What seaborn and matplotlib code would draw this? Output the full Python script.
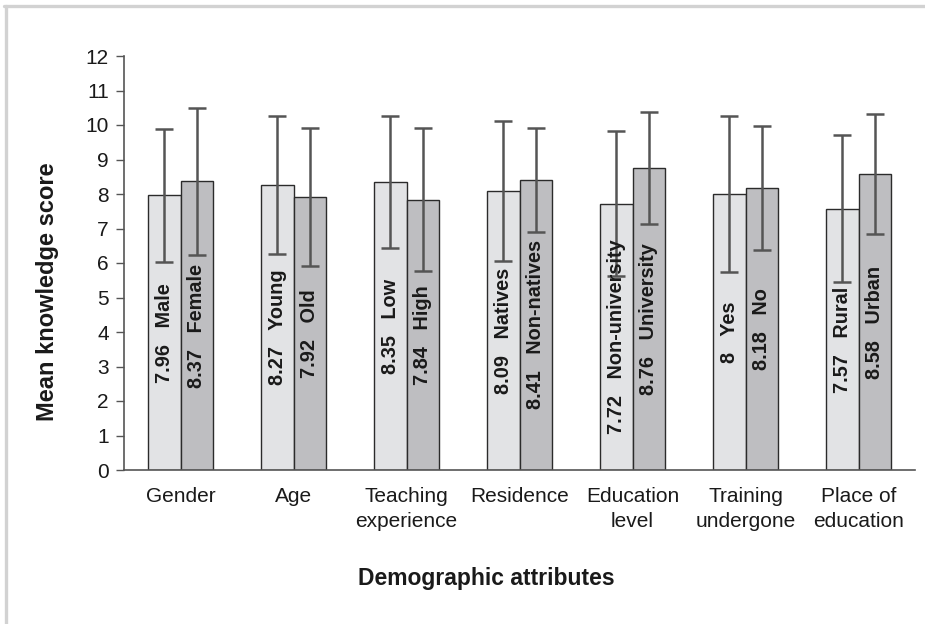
import matplotlib
matplotlib.use("Agg")
import matplotlib.pyplot as plt
from matplotlib.lines import Line2D
import seaborn as sns
import pandas as pd
import numpy as np

categories = ["Gender", "Age", "Teaching\nexperience", "Residence",
              "Education\nlevel", "Training\nundergone", "Place of\neducation"]
names_first = ["Male", "Young", "Low", "Natives", "Non-university", "Yes", "Rural"]
names_second = ["Female", "Old", "High", "Non-natives", "University", "No", "Urban"]
means_first = [7.96, 8.27, 8.35, 8.09, 7.72, 8, 7.57]
means_second = [8.37, 7.92, 7.84, 8.41, 8.76, 8.18, 8.58]
sd_first = [1.93, 2.00, 1.91, 2.03, 2.11, 2.26, 2.13]
sd_second = [2.13, 2.00, 2.08, 1.50, 1.62, 1.80, 1.75]
y_ticks = list(range(0, 13))

sns.set_theme(style="white")
plt.rcParams["font.family"] = ["Liberation Sans", "DejaVu Sans"]

rows = []
for i, c in enumerate(categories):
    rows.append(dict(cat=c, grp="first", mean=means_first[i], sd=sd_first[i], name=names_first[i]))
    rows.append(dict(cat=c, grp="second", mean=means_second[i], sd=sd_second[i], name=names_second[i]))
df = pd.DataFrame(rows)

fig = plt.figure(figsize=(9.25, 6.24), dpi=100)
ax = fig.add_axes([124 / 925, 1 - 470 / 624, (915 - 124) / 925, (470 - 56) / 624])

sns.barplot(data=df, x="cat", y="mean", hue="grp", order=categories,
            hue_order=["first", "second"],
            palette={"first": "#E2E3E5", "second": "#BDBEC1"},
            errorbar=None, width=0.575, gap=0, edgecolor="#2b2b2b",
            linewidth=1.0, legend=False, ax=ax)

bars = ax.patches
groups = [(means_first, sd_first, names_first),
          (means_second, sd_second, names_second)]
k = 0
for means, sds, names in groups:
    for i in range(len(categories)):
        p = bars[k]
        k += 1
        xc = p.get_x() + p.get_width() / 2
        ax.errorbar(xc, means[i], yerr=sds[i], fmt="none", ecolor="#555555",
                    elinewidth=1.8, capsize=6.5, capthick=1.8, zorder=3)
        ax.text(xc, means[i] / 2, f"{means[i]:g}   {names[i]}", rotation=90,
                ha="center", va="center", fontsize=14.3, fontweight="bold",
                color="#1a1a1a", zorder=4)

ax.set_ylim(0, 12)
ax.set_xlim(-0.5, len(categories) - 0.5)
ax.set_yticks(y_ticks)
ax.set_yticklabels([str(t) for t in y_ticks], fontsize=15, color="#1a1a1a")
ax.set_xticks(range(len(categories)))
ax.set_xticklabels(categories, fontsize=15, color="#1a1a1a", linespacing=1.4)
ax.set_xticks(np.arange(-0.5, len(categories) + 0.5, 1), minor=True)
ax.tick_params(axis="x", which="major", length=0, pad=12)
ax.tick_params(axis="x", which="minor", length=6, width=1, color="#555555", direction="out")
ax.tick_params(axis="y", length=6, width=1, color="#555555", direction="out", pad=5, left=True)

for s in ["top", "right"]:
    ax.spines[s].set_visible(False)
for s in ["left", "bottom"]:
    ax.spines[s].set_color("#555555")
    ax.spines[s].set_linewidth(1.2)

ax.set_xlabel("")
ax.set_ylabel("")
fig.text(486 / 925, 1 - 578 / 624, "Demographic attributes", ha="center", va="center",
         fontsize=16.5, fontweight="bold", color="#1a1a1a")
fig.text(48 / 925, 1 - 292 / 624, "Mean knowledge score", ha="center", va="center",
         rotation=90, fontsize=17, fontweight="bold", color="#1a1a1a")

# light frame lines (top and left)
fig.add_artist(Line2D([4 / 925, 1], [1 - 6 / 624, 1 - 6 / 624], transform=fig.transFigure,
                      color="#d2d2d2", linewidth=2.4))
fig.add_artist(Line2D([5.5 / 925, 5.5 / 925], [0, 1 - 6 / 624], transform=fig.transFigure,
                      color="#d2d2d2", linewidth=2.4))

fig.savefig("out.png", dpi=100)
